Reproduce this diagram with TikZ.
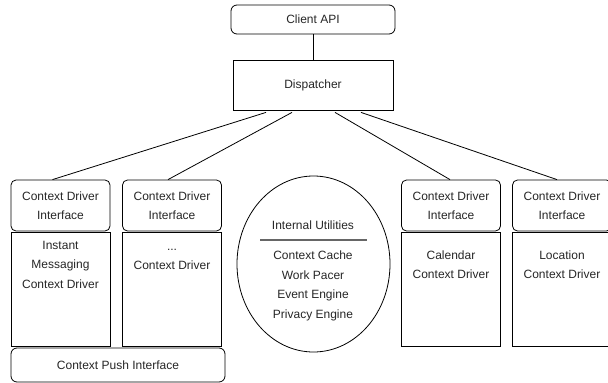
\documentclass[tikz,border=0pt]{standalone}
\usepackage{fontspec}
\setmainfont{Liberation Sans}
\usetikzlibrary{shapes.geometric}

\begin{document}
\begin{tikzpicture}[x=1pt, y=-1pt, line width=0.8pt,
    every node/.style={font=\fontsize{12}{19.5}\selectfont, text=black!85},
    apibox/.style={draw, rounded corners=6pt, minimum width=164pt, minimum height=29pt},
    dispbox/.style={draw, minimum width=160pt, minimum height=50pt},
    iface/.style={draw, rounded corners=5pt, minimum width=99pt, minimum height=51pt, align=center},
    driver/.style={draw, minimum width=99pt, minimum height=114pt},
    drvtext/.style={align=center},
    pushbox/.style={draw, rounded corners=6pt, minimum width=214pt, minimum height=34pt},
    link/.style={draw}]
    \useasboundingbox (0,0) rectangle (608,383);

    \node[apibox] (api) at (313,19.5) {Client API};
    \node[dispbox] (disp) at (313,85) {Dispatcher};
    \draw[link] (api) -- (disp);

    \node[iface] (ifA) at (60.5,205.5) {Context Driver\\Interface};
    \node[iface] (ifB) at (172,205.5) {Context Driver\\Interface};
    \node[iface] (ifC) at (451,205.5) {Context Driver\\Interface};
    \node[iface] (ifD) at (562,205.5) {Context Driver\\Interface};

    \draw[link] ([xshift=-47pt,yshift=-2pt]disp.south) -- ([xshift=-8pt]ifA.north);
    \draw[link] ([xshift=-21pt,yshift=-2pt]disp.south) -- ([xshift=-4pt]ifB.north);
    \draw[link] ([xshift=22pt,yshift=-2pt]disp.south) -- ([xshift=-1pt]ifC.north);
    \draw[link] ([xshift=48pt,yshift=-2pt]disp.south) -- ([xshift=-5pt]ifD.north);

    \node[driver] (drvA) at (60.5,289) {};
    \node[driver] (drvB) at (172,289) {};
    \node[driver] (drvC) at (451,289) {};
    \node[driver] (drvD) at (562,289) {};
    \node[drvtext] (drvAtxt) at ([yshift=-33pt]drvA.north) {Instant\\Messaging\\Context Driver};
    \node[drvtext] (drvBtxt) at ([yshift=-28pt]drvB.north) {...\\Context Driver};
    \node[drvtext] (drvCtxt) at ([yshift=-33pt]drvC.north) {Calendar\\Context Driver};
    \node[drvtext] (drvDtxt) at ([yshift=-33pt]drvD.north) {Location\\Context Driver};

    \node[pushbox] (push) at (118,365) {Context Push Interface};

    \node[draw, ellipse, minimum width=153pt, minimum height=176pt] (util) at (313.5,264) {};
    \node (utiltitle) at (313,225) {Internal Utilities};
    \draw[black!60, line width=1.2pt] (260,240) -- (367,240);
    \node[align=center] (utillist) at (313,286) {Context Cache\\Work Pacer\\Event Engine\\Privacy Engine};
\end{tikzpicture}
\end{document}
